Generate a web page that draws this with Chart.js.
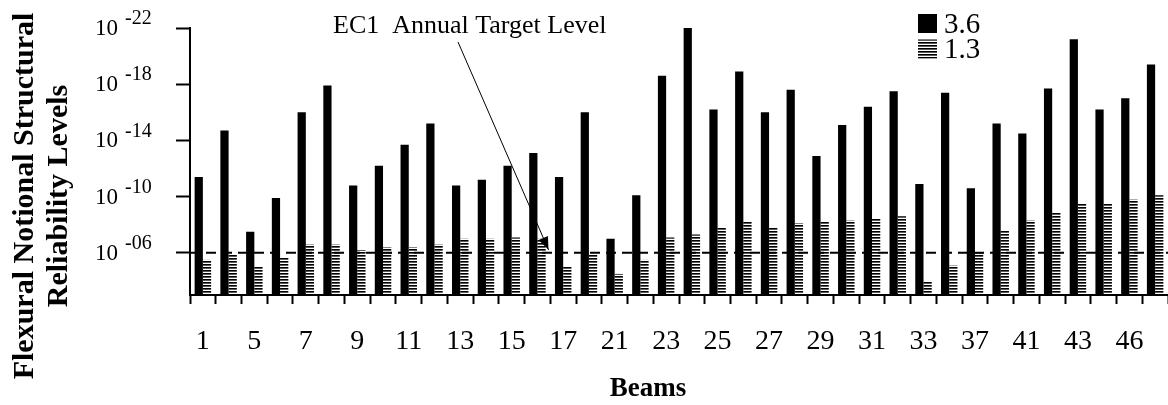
<!DOCTYPE html>
<html>
<head>
<meta charset="utf-8">
<script src="https://cdn.jsdelivr.net/npm/chart.js@4.4.1/dist/chart.umd.min.js"></script>
<style>
  html, body { margin: 0; padding: 0; background: #fff; }
  #wrap { width: 1168px; height: 405px; }
</style>
</head>
<body>
<div id="wrap"><canvas id="c" width="1168" height="405"></canvas></div>
<script>
// Beam identifiers (only every second one is printed on the axis)
const beams = ['1','3','5','6','7','8','9','10','11','12','13','14','15','16','17','19',
  '21','22','23','24','25','26','27','28','29','30','31','32','33','35','37','39',
  '41','42','43','44','46','47'];

// Notional reliability level, as the exponent n of 10^-n
const levelsBeta36 = [11.4,14.7,7.5,9.9,16.0,17.9,10.8,12.2,13.7,15.2,10.8,11.2,12.2,13.1,11.4,16.0,
  7.0,10.1,18.6,22.0,16.2,18.9,16.0,17.6,12.9,15.1,16.4,17.5,10.9,17.4,10.6,15.2,
  14.5,17.7,21.2,16.2,17.0,19.4];
const levelsBeta13 = [5.5,5.9,5.0,5.7,6.6,6.6,6.2,6.4,6.4,6.6,7.0,7.0,7.1,7.0,5.0,5.9,
  4.5,5.5,7.1,7.3,7.8,8.2,7.8,8.1,8.2,8.3,8.4,8.6,4.0,5.1,6.0,7.6,
  8.3,8.9,9.5,9.5,9.8,10.1];

const seriesNames = ['3.6', '1.3'];
const yTickExponents = [6, 10, 14, 18, 22];
const targetExponent = 6;   // EC1 annual target level, 10^-6
const axisTitleY = ['Flexural Notional Structural', 'Reliability Levels'];
const axisTitleX = 'Beams';
const targetNote = 'EC1  Annual Target Level';

const SERIF = '"Liberation Serif", "Times New Roman", serif';

// horizontal hatch fill
function makeHatch() {
  const c = document.createElement('canvas');
  c.width = 4; c.height = 3;
  const g = c.getContext('2d');
  g.fillStyle = '#fff'; g.fillRect(0, 0, 4, 3);
  g.fillStyle = '#000'; g.fillRect(0, 0, 4, 1);
  g.fillStyle = '#5a5a5a'; g.fillRect(0, 1, 4, 1);
  return document.getElementById('c').getContext('2d').createPattern(c, 'repeat');
}
const hatch = makeHatch();

const decorations = {
  id: 'decorations',
  afterDraw(chart) {
    const ctx = chart.ctx;
    const xs = chart.scales.x, ys = chart.scales.y;
    const area = chart.chartArea;
    ctx.save();

    // y tick labels: 10 with raised exponent
    ctx.fillStyle = '#000';
    ctx.textBaseline = 'middle';
    yTickExponents.forEach(v => {
      const y = ys.getPixelForValue(v);
      ctx.font = '23px ' + SERIF;
      ctx.textAlign = 'right';
      ctx.fillText('10', 118, y + 1);
      ctx.font = '20px ' + SERIF;
      ctx.textAlign = 'left';
      ctx.fillText('-' + String(v).padStart(2, '0'), 125, y - 9);
    });

    // y axis title
    ctx.save();
    ctx.translate(25, 196);
    ctx.rotate(-Math.PI / 2);
    ctx.font = 'bold 30px ' + SERIF;
    ctx.textAlign = 'center';
    ctx.textBaseline = 'middle';
    ctx.fillText(axisTitleY[0], 0, 0);
    ctx.fillText(axisTitleY[1], 0, 34);
    ctx.restore();

    // x axis title
    ctx.font = 'bold 27px ' + SERIF;
    ctx.textAlign = 'center';
    ctx.textBaseline = 'alphabetic';
    ctx.fillText(axisTitleX, 648, 396);

    // target level dashed line
    const ty = ys.getPixelForValue(targetExponent);
    ctx.strokeStyle = '#000';
    ctx.lineWidth = 2;
    ctx.setLineDash([10, 6]);
    ctx.beginPath();
    ctx.moveTo(area.left, ty);
    ctx.lineTo(area.right, ty);
    ctx.stroke();
    ctx.setLineDash([]);

    // note with arrow pointing at the target line
    ctx.font = '26px ' + SERIF;
    ctx.textAlign = 'left';
    ctx.fillText(targetNote, 333, 33);
    const tipX = xs.getPixelForValue(13.43), tipY = ty - 3;
    const tailX = 458, tailY = 42;
    const ang = Math.atan2(tipY - tailY, tipX - tailX);
    ctx.lineWidth = 1;
    ctx.beginPath();
    ctx.moveTo(tailX, tailY);
    ctx.lineTo(tipX, tipY);
    ctx.stroke();
    const hl = 13, hw = 5;
    ctx.beginPath();
    ctx.moveTo(tipX, tipY);
    ctx.lineTo(tipX - hl * Math.cos(ang) + hw * Math.sin(ang), tipY - hl * Math.sin(ang) - hw * Math.cos(ang));
    ctx.lineTo(tipX - hl * Math.cos(ang) - hw * Math.sin(ang), tipY - hl * Math.sin(ang) + hw * Math.cos(ang));
    ctx.closePath();
    ctx.fill();

    // legend
    ctx.font = '29px ' + SERIF;
    ctx.textBaseline = 'alphabetic';
    chart.data.datasets.forEach((ds, i) => {
      const top = 14 + i * 25.5;
      ctx.fillStyle = ds.backgroundColor;
      ctx.fillRect(918, top, 19, 19);
      ctx.fillStyle = '#000';
      ctx.fillText(ds.label, 944, top + 18.5);
    });

    ctx.restore();
  }
};

new Chart(document.getElementById('c'), {
  type: 'bar',
  data: {
    labels: beams,
    datasets: [
      { label: seriesNames[0], data: levelsBeta36, backgroundColor: '#000',
        categoryPercentage: 0.64, barPercentage: 1.0 },
      { label: seriesNames[1], data: levelsBeta13, backgroundColor: hatch,
        categoryPercentage: 0.64, barPercentage: 1.0 }
    ]
  },
  options: {
    responsive: false,
    animation: false,
    devicePixelRatio: 1,
    layout: { padding: { top: 28, left: 0, right: 0, bottom: 0 } },
    plugins: { legend: { display: false }, tooltip: { enabled: false } },
    scales: {
      x: {
        offset: true,
        grid: { display: true, drawOnChartArea: false, offset: true,
                tickLength: 9, tickColor: '#000', tickWidth: 2 },
        border: { display: true, color: '#000', width: 2 },
        ticks: {
          autoSkip: false, maxRotation: 0, minRotation: 0, color: '#000', padding: 21,
          font: { family: SERIF, size: 28 },
          callback: (v, i) => (i % 2 === 0 ? beams[i] : '')
        },
        afterFit: s => { s.height = 110; s.paddingLeft = 0; s.paddingRight = 0; }
      },
      y: {
        min: 3, max: 22,
        afterBuildTicks: s => { s.ticks = yTickExponents.map(v => ({ value: v })); },
        grid: { display: true, drawOnChartArea: false, tickLength: 14, tickColor: '#000', tickWidth: 2 },
        border: { display: true, color: '#000', width: 2 },
        ticks: { display: false },
        afterFit: s => { s.width = 190; s.paddingTop = 0; s.paddingBottom = 0; }
      }
    }
  },
  plugins: [decorations]
});
</script>
</body>
</html>
